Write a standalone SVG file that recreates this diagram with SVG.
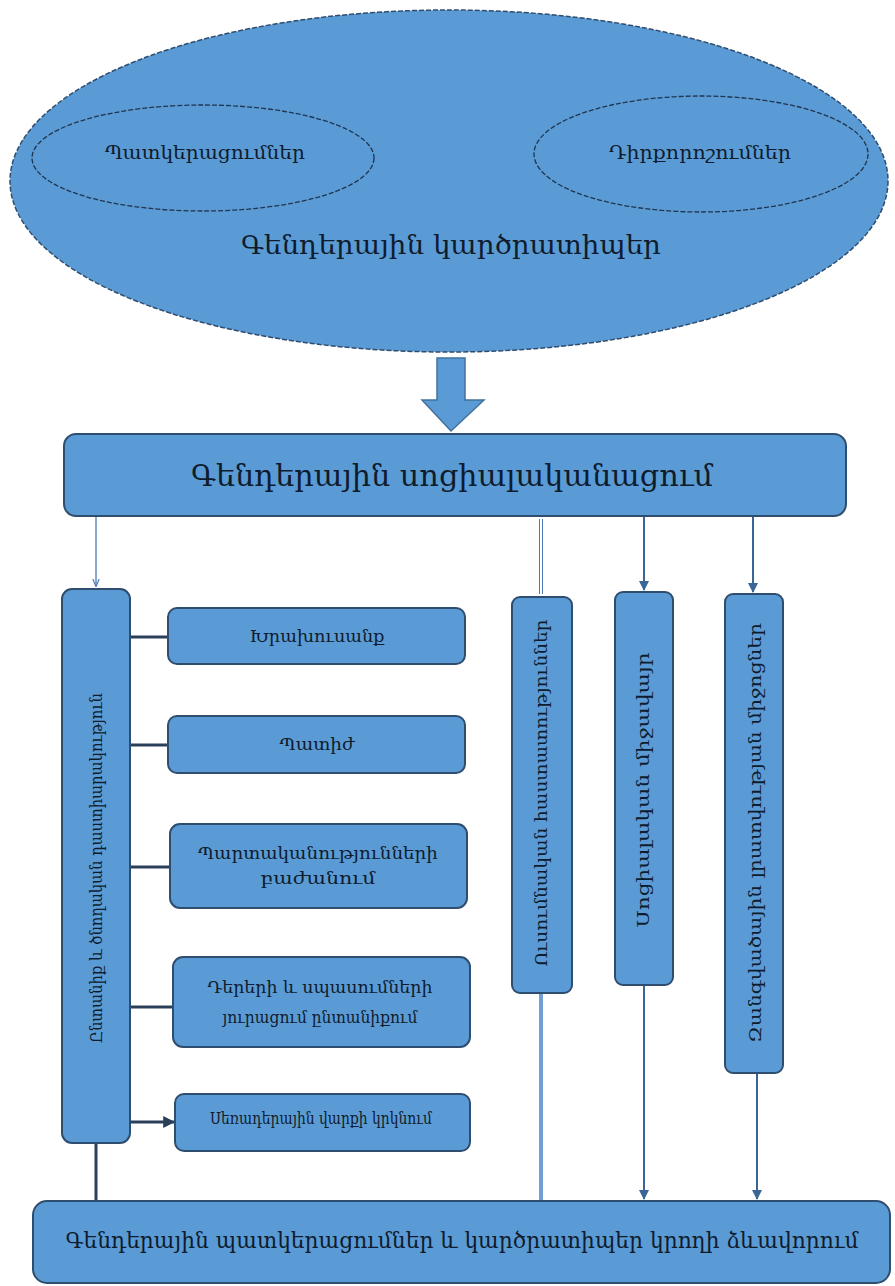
<svg xmlns="http://www.w3.org/2000/svg" width="895" height="1286" viewBox="0 0 895 1286">
<defs>
<style>
.bx{fill:#5b9bd5;stroke:#2f4d6e;stroke-width:2}
.el{fill:#5b9bd5;stroke:#2f4d6e;stroke-width:1.5;stroke-dasharray:5 2}
.iel{fill:none;stroke:#1f3550;stroke-width:1.3;stroke-dasharray:5 2}
.t{font-family:"DejaVu Serif","DejaVu Sans",serif;fill:#0f1c2e;text-anchor:middle;dominant-baseline:central}
.dk{stroke:#2a3f5a;stroke-width:3;fill:none}
.md{stroke:#3a6597;stroke-width:2;fill:none}
.th{stroke:#4a7bb5;stroke-width:1.3;fill:none}
</style>
<marker id="ah" viewBox="0 0 10 10" refX="9" refY="5" markerWidth="4" markerHeight="4" orient="auto"><path d="M0,0L10,5L0,10z" fill="#2a3f5a"/></marker>
<marker id="ahb" viewBox="0 0 10 10" refX="9" refY="5" markerWidth="5" markerHeight="5" orient="auto"><path d="M0,0L10,5L0,10z" fill="#3a6597"/></marker>
<marker id="aht" viewBox="0 0 10 10" refX="9" refY="5" markerWidth="6" markerHeight="6" orient="auto"><path d="M0,1L10,5L0,9" fill="none" stroke="#4a7bb5" stroke-width="1.5"/></marker>
</defs>
<rect width="895" height="1286" fill="#ffffff"/>

<g id="stereotypes">
<ellipse class="el" cx="449" cy="181" rx="439" ry="171"/>
<text class="t" x="451" y="245" font-size="26" textLength="420" lengthAdjust="spacingAndGlyphs">Գենդերային  կարծրատիպեր</text>
</g>
<g id="representations">
<ellipse class="iel" cx="203" cy="158" rx="171" ry="53"/>
<text class="t" x="205" y="152" font-size="18" textLength="200" lengthAdjust="spacingAndGlyphs">Պատկերացումներ</text>
</g>
<g id="attitudes">
<ellipse class="iel" cx="701" cy="154" rx="167" ry="58"/>
<text class="t" x="700" y="152" font-size="18" textLength="182" lengthAdjust="spacingAndGlyphs">Դիրքորոշումներ</text>
</g>

<g id="connectors">
<polygon points="437,358 465,358 465,400 484,400 451,431 422,400 437,400" fill="#5b9bd5" stroke="#41719c" stroke-width="1.5"/>
<line class="th" x1="96" y1="517" x2="96" y2="586" marker-end="url(#aht)"/>
<line x1="541" y1="519" x2="541" y2="594" stroke="#4a7bb5" stroke-width="4"/>
<line x1="541" y1="519" x2="541" y2="594" stroke="#ffffff" stroke-width="2"/>
<line class="md" x1="644" y1="517" x2="644" y2="590" marker-end="url(#ahb)"/>
<line class="md" x1="753" y1="517" x2="753" y2="592" marker-end="url(#ahb)"/>
<line class="dk" x1="130" y1="637" x2="168" y2="637"/>
<line class="dk" x1="130" y1="745" x2="168" y2="745"/>
<line class="dk" x1="130" y1="867" x2="170" y2="867"/>
<line class="dk" x1="130" y1="1007" x2="173" y2="1007"/>
<line class="dk" x1="130" y1="1122" x2="174" y2="1122" marker-end="url(#ah)"/>
<line class="dk" x1="96" y1="1143" x2="96" y2="1200"/>
<line x1="541" y1="993" x2="541" y2="1200" stroke="#6f9fd3" stroke-width="4"/>
<line class="md" x1="644" y1="985" x2="644" y2="1199" stroke="#2a3f5a" marker-end="url(#ahb)"/>
<line class="md" x1="757" y1="1073" x2="757" y2="1199" marker-end="url(#ahb)"/>
</g>

<g id="socialization">
<rect class="bx" x="64" y="434" width="782" height="82" rx="12"/>
<text class="t" x="452" y="475" font-size="30" textLength="522" lengthAdjust="spacingAndGlyphs">Գենդերային սոցիալականացում</text>
</g>

<g id="family">
<rect class="bx" x="62" y="589" width="68" height="554" rx="10"/>
<text class="t" font-size="17" transform="translate(96,868) rotate(-90)" textLength="350" lengthAdjust="spacingAndGlyphs">Ընտանիք և ծնողական դաստիարակություն</text>
</g>
<g id="encouragement">
<rect class="bx" x="168" y="608" width="297" height="56" rx="9"/>
<text class="t" x="317" y="636" font-size="17" textLength="135" lengthAdjust="spacingAndGlyphs">Խրախուսանք</text>
</g>
<g id="punishment">
<rect class="bx" x="168" y="716" width="297" height="57" rx="9"/>
<text class="t" x="317" y="744" font-size="17" textLength="75" lengthAdjust="spacingAndGlyphs">Պատիժ</text>
</g>
<g id="duties">
<rect class="bx" x="170" y="824" width="297" height="84" rx="10"/>
<text class="t" x="318" y="853" font-size="17" textLength="240" lengthAdjust="spacingAndGlyphs">Պարտականությունների</text>
<text class="t" x="318" y="878" font-size="17" textLength="115" lengthAdjust="spacingAndGlyphs">բաժանում</text>
</g>
<g id="roles">
<rect class="bx" x="173" y="957" width="297" height="90" rx="10"/>
<text class="t" x="320" y="987" font-size="17" textLength="225" lengthAdjust="spacingAndGlyphs">Դերերի և սպասումների</text>
<text class="t" x="320" y="1017" font-size="17" textLength="195" lengthAdjust="spacingAndGlyphs">յուրացում ընտանիքում</text>
</g>
<g id="imitation">
<rect class="bx" x="175" y="1094" width="295" height="57" rx="9"/>
<text class="t" x="321" y="1118" font-size="17" textLength="222" lengthAdjust="spacingAndGlyphs">Սեռադերային վարքի կրկնում</text>
</g>

<g id="education">
<rect class="bx" x="512" y="597" width="60" height="396" rx="8"/>
<text class="t" font-size="17" transform="translate(541,793) rotate(-90)" textLength="347" lengthAdjust="spacingAndGlyphs">Ուսումնական հաստատություններ</text>
</g>
<g id="social-env">
<rect class="bx" x="615" y="592" width="58" height="393" rx="8"/>
<text class="t" font-size="17" transform="translate(643,790) rotate(-90)" textLength="275" lengthAdjust="spacingAndGlyphs">Սոցիալական միջավայր</text>
</g>
<g id="media">
<rect class="bx" x="725" y="594" width="58" height="479" rx="8"/>
<text class="t" font-size="17" transform="translate(755,833) rotate(-90)" textLength="420" lengthAdjust="spacingAndGlyphs">Զանգվածային լրատվության միջոցներ</text>
</g>

<g id="outcome">
<rect class="bx" x="33" y="1201" width="857" height="82" rx="14"/>
<text class="t" x="462" y="1240" font-size="22" textLength="793" lengthAdjust="spacingAndGlyphs">Գենդերային պատկերացումներ և կարծրատիպեր կրողի ձևավորում</text>
</g>
</svg>
